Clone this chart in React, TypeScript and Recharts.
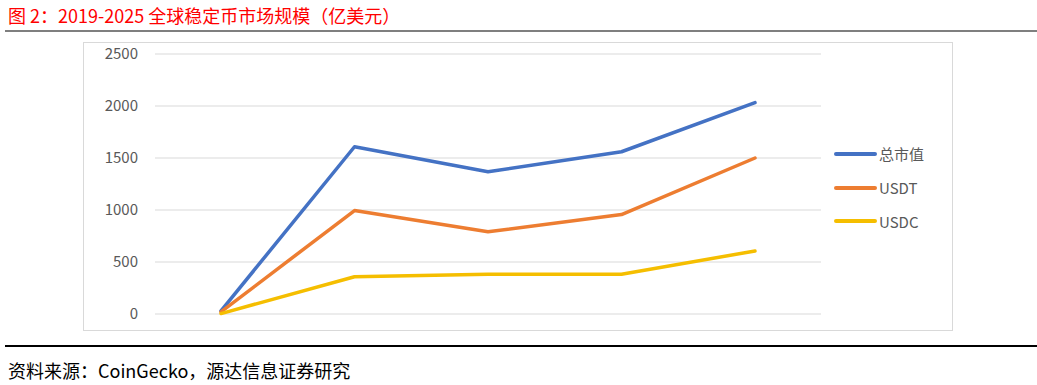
import React from "react";
import { LineChart, Line, XAxis, YAxis, CartesianGrid, Legend } from "recharts";

const years = ["2019", "2021", "2022", "2023", "2025"];
const totalCap = [30, 1608, 1367, 1560, 2032];
const usdt = [20, 995, 790, 956, 1500];
const usdc = [4, 358, 382, 382, 606];
const yTicks = [0, 500, 1000, 1500, 2000, 2500];

const seriesDefs = [
  { key: "total", name: "总市值", color: "#4472C4" },
  { key: "usdt", name: "USDT", color: "#ED7D31" },
  { key: "usdc", name: "USDC", color: "#F5BE00" },
];

const data = years.map((y, i) => ({
  year: y,
  total: totalCap[i],
  usdt: usdt[i],
  usdc: usdc[i],
}));

const FONT = '"Noto Sans CJK SC", "Noto Sans", sans-serif';

const LegendContent = () => (
  <div style={{ display: "flex", flexDirection: "column" }}>
    {seriesDefs.map((s) => (
      <div key={s.key} style={{ display: "flex", alignItems: "center", height: 33.7 }}>
        <svg width={46} height={6} style={{ display: "block" }}>
          <line x1={3} y1={3} x2={42} y2={3} stroke={s.color} strokeWidth={4} strokeLinecap="round" />
        </svg>
        <span style={{ fontFamily: FONT, fontSize: 15, color: "#595959", marginLeft: 0 }}>{s.name}</span>
      </div>
    ))}
  </div>
);

export default function App() {
  return (
    <div style={{ position: "absolute", left: 0, top: 0, width: 1037, height: 385, background: "#fff", fontFamily: FONT }}>
      <div style={{ position: "absolute", left: 8, top: 2, fontSize: 18, color: "#FF0000", whiteSpace: "nowrap", lineHeight: "26px" }}>
        图 2：2019-2025 全球稳定币市场规模（亿美元）
      </div>
      <div style={{ position: "absolute", left: 5, top: 30, width: 1032, height: 2, background: "#7F7F7F" }} />
      <div style={{ position: "absolute", left: 83, top: 42, width: 870, height: 289, border: "1px solid #D9D9D9", boxSizing: "border-box" }}>
        <LineChart width={868} height={287} data={data} margin={{ top: 11, right: 11, bottom: 16, left: 0 }}>
          <CartesianGrid vertical={false} stroke="#D9D9D9" strokeWidth={1} />
          <XAxis dataKey="year" tick={false} axisLine={false} tickLine={false} height={0} padding={{ left: 66, right: 66 }} />
          <YAxis
            domain={[0, 2500]}
            ticks={yTicks}
            width={71}
            axisLine={false}
            tickLine={false}
            tickSize={0}
            tickMargin={17}
            tick={{ fill: "#595959", fontSize: 15, fontFamily: FONT }}
            interval={0}
          />
          <Legend layout="vertical" align="right" verticalAlign="top" content={<LegendContent />} wrapperStyle={{ left: 749, top: 94, width: 120 }} />
          {seriesDefs.map((s) => (
            <Line
              key={s.key}
              type="linear"
              dataKey={s.key}
              name={s.name}
              stroke={s.color}
              strokeWidth={3.5}
              strokeLinecap="round"
              strokeLinejoin="round"
              dot={false}
              activeDot={false}
              isAnimationActive={false}
            />
          ))}
        </LineChart>
      </div>
      <div style={{ position: "absolute", left: 5, top: 345, width: 1032, height: 2, background: "#000" }} />
      <div style={{ position: "absolute", left: 8, top: 357, fontSize: 18, color: "#000", whiteSpace: "nowrap", lineHeight: "26px" }}>
        资料来源：CoinGecko，源达信息证券研究
      </div>
    </div>
  );
}
